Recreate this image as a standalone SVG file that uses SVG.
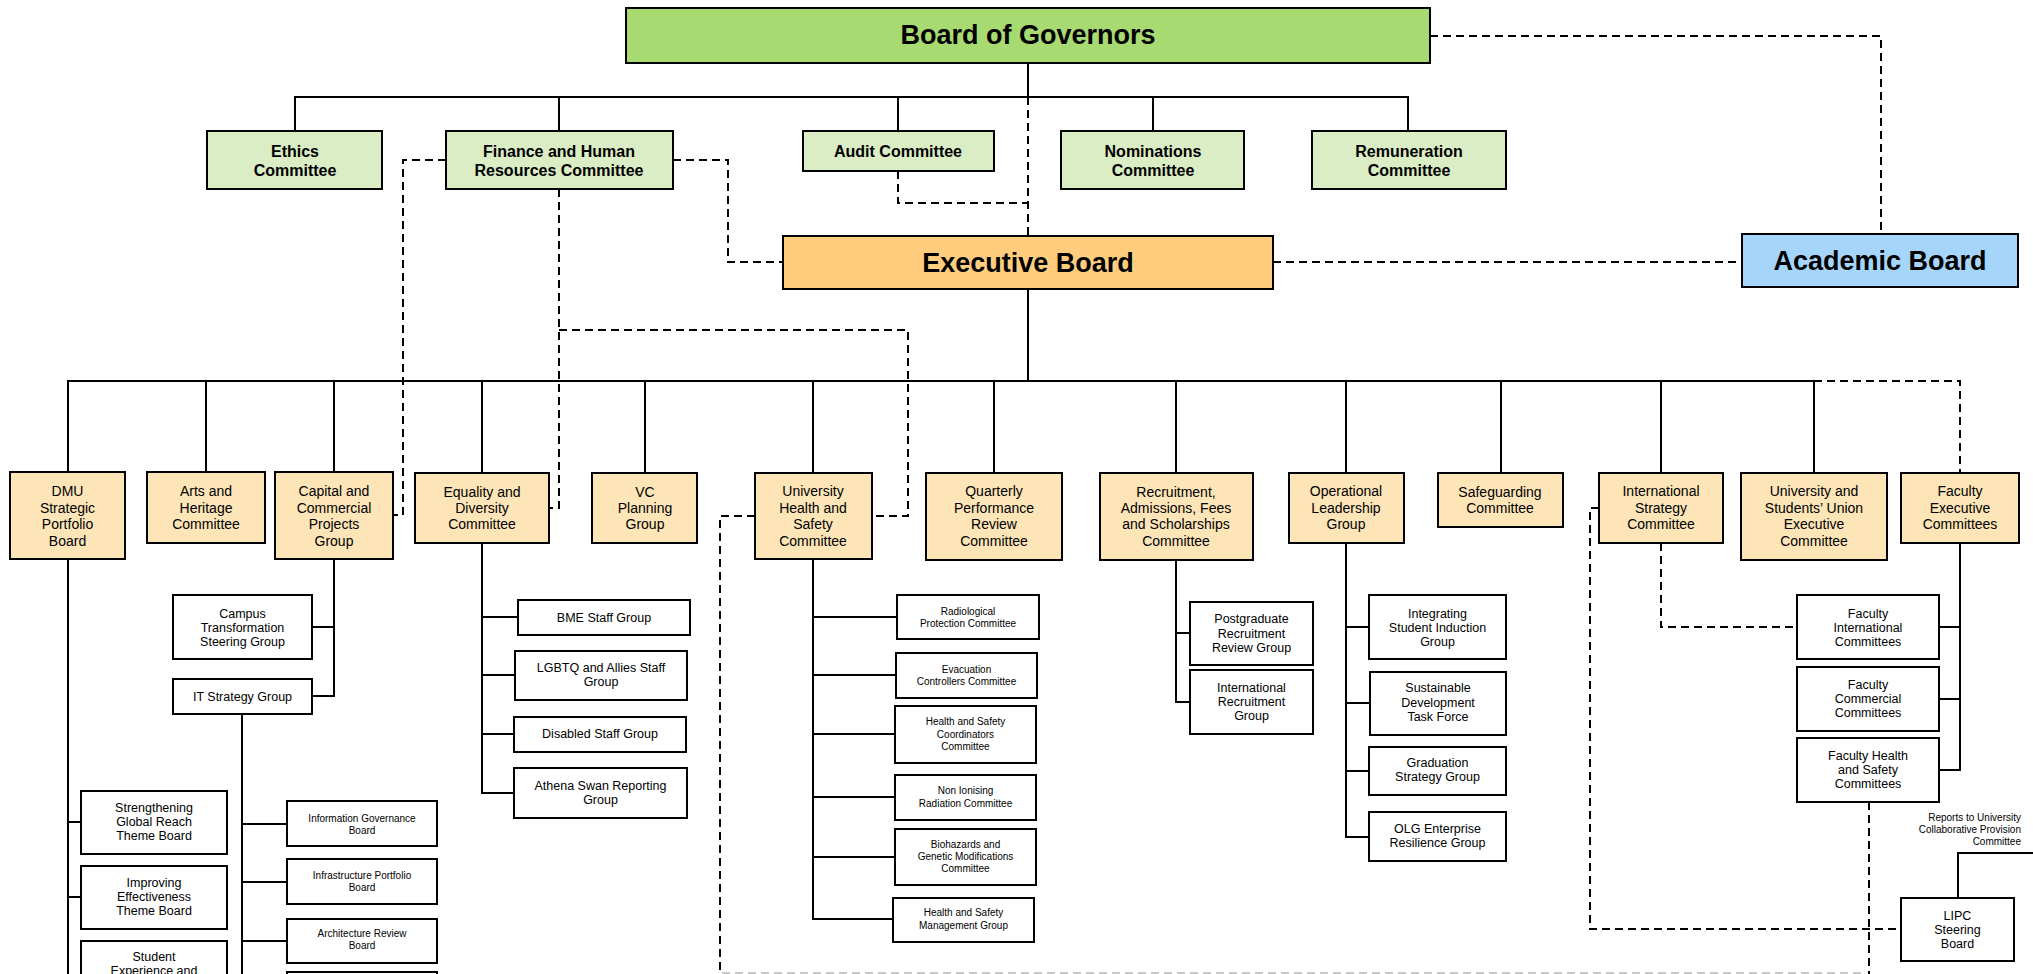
<svg xmlns="http://www.w3.org/2000/svg" width="2033" height="974" viewBox="0 0 2033 974">
<style>
.n rect{stroke:#000;stroke-width:2}
.bog{fill:#A8DA72}.com{fill:#DAEDC4}.exe{fill:#FFCD7D}.aca{fill:#A5D5FB}.sub{fill:#FDE5B7}.w{fill:#fff}
text{font-family:"Liberation Sans",Arial,sans-serif;text-anchor:middle;fill:#000}
.big{font-size:27px;font-weight:bold}
.cb{font-size:16px;font-weight:bold}
.o{font-size:14px}
.m{font-size:12.5px}
.sm{font-size:10px}
.s{fill:none;stroke:#000;stroke-width:2}
.d{fill:none;stroke:#000;stroke-width:2;stroke-dasharray:8 5}
.gd{fill:none;stroke:#c8c8c8;stroke-width:2;stroke-dasharray:8 5}
</style>
<rect x="0" y="0" width="2033" height="974" fill="#fff"/>
<g id="connectors">
<path class="s" d="M1028 63V97M295 131V97H1408V131M559 97V131M898 97V131M1153 97V131"/>
<path class="s" d="M1028 289V381M68 472V381H1814V473M206 381V472M334 381V472M482 381V473M645 381V473M813 381V473M994 381V473M1176 381V473M1346 381V473M1501 381V473M1661 381V473"/>
<path class="s" d="M68 559V974M68 822H81M68 897H81"/>
<path class="s" d="M334 559V696H312M334 627H312"/>
<path class="s" d="M242 714V974M242 824H287M242 882H287M242 941H287"/>
<path class="s" d="M482 543V793H514M482 617H518M482 675H515M482 734H514"/>
<path class="s" d="M813 559V919H893M813 617H897M813 675H896M813 734H895M813 797H895M813 857H895"/>
<path class="s" d="M1176 560V702H1190M1176 633H1190"/>
<path class="s" d="M1346 543V837H1369M1346 627H1369M1346 703H1370M1346 771H1369"/>
<path class="s" d="M1960 543V770H1939M1960 627H1939M1960 699H1939"/>
<path class="s" d="M2033 853H1958V898"/>
<path class="d" d="M1430 36H1881V234"/>
<path class="d" d="M1273 262H1742"/>
<path class="d" d="M1028 97V236"/>
<path class="d" d="M898 171V203H1028"/>
<path class="d" d="M673 160H728V262H783"/>
<path class="d" d="M446 160H403V515H393"/>
<path class="d" d="M559 189V508H549"/>
<path class="d" d="M559 330H908V516H872"/>
<path class="d" d="M755 516H720V974"/>
<path class="d" d="M1814 381H1960V473"/>
<path class="d" d="M1599 508H1590V929H1901"/>
<path class="d" d="M1661 543V627H1797"/>
<path class="d" d="M1869 802V974"/>
<path class="gd" d="M722 973H1866"/>
</g>
<g class="n">
<g id="board-of-governors"><rect class="bog" x="626" y="8" width="804" height="55"/><text class="big" x="1028" y="44">Board of Governors</text></g>
<g id="executive-board"><rect class="exe" x="783" y="236" width="490" height="53"/><text class="big" x="1028" y="272">Executive Board</text></g>
<g id="academic-board"><rect class="aca" x="1742" y="234" width="276" height="53"/><text class="big" x="1880" y="270">Academic Board</text></g>
<g id="ethics"><rect class="com" x="207" y="131" width="175" height="58"/><text class="cb"><tspan x="295" y="157">Ethics</tspan><tspan x="295" y="176">Committee</tspan></text></g>
<g id="finance-hr"><rect class="com" x="446" y="131" width="227" height="58"/><text class="cb"><tspan x="559" y="157">Finance and Human</tspan><tspan x="559" y="176">Resources Committee</tspan></text></g>
<g id="audit"><rect class="com" x="803" y="131" width="191" height="40"/><text class="cb" x="898" y="157">Audit Committee</text></g>
<g id="nominations"><rect class="com" x="1061" y="131" width="183" height="58"/><text class="cb"><tspan x="1153" y="157">Nominations</tspan><tspan x="1153" y="176">Committee</tspan></text></g>
<g id="remuneration"><rect class="com" x="1312" y="131" width="194" height="58"/><text class="cb"><tspan x="1409" y="157">Remuneration</tspan><tspan x="1409" y="176">Committee</tspan></text></g>
<g id="dmu"><rect class="sub" x="10" y="472" width="115" height="87"/><text class="o"><tspan x="67.5" y="496">DMU</tspan><tspan x="67.5" y="513">Strategic</tspan><tspan x="67.5" y="529">Portfolio</tspan><tspan x="67.5" y="546">Board</tspan></text></g>
<g id="arts"><rect class="sub" x="147" y="472" width="118" height="71"/><text class="o"><tspan x="206" y="496">Arts and</tspan><tspan x="206" y="513">Heritage</tspan><tspan x="206" y="529">Committee</tspan></text></g>
<g id="capital"><rect class="sub" x="275" y="472" width="118" height="87"/><text class="o"><tspan x="334" y="496">Capital and</tspan><tspan x="334" y="513">Commercial</tspan><tspan x="334" y="529">Projects</tspan><tspan x="334" y="546">Group</tspan></text></g>
<g id="equality"><rect class="sub" x="415" y="473" width="134" height="70"/><text class="o"><tspan x="482" y="497">Equality and</tspan><tspan x="482" y="513">Diversity</tspan><tspan x="482" y="529">Committee</tspan></text></g>
<g id="vc"><rect class="sub" x="592" y="473" width="105" height="70"/><text class="o"><tspan x="645" y="497">VC</tspan><tspan x="645" y="513">Planning</tspan><tspan x="645" y="529">Group</tspan></text></g>
<g id="uhs"><rect class="sub" x="755" y="473" width="117" height="86"/><text class="o"><tspan x="813" y="496">University</tspan><tspan x="813" y="513">Health and</tspan><tspan x="813" y="529">Safety</tspan><tspan x="813" y="546">Committee</tspan></text></g>
<g id="quarterly"><rect class="sub" x="926" y="473" width="136" height="87"/><text class="o"><tspan x="994" y="496">Quarterly</tspan><tspan x="994" y="513">Performance</tspan><tspan x="994" y="529">Review</tspan><tspan x="994" y="546">Committee</tspan></text></g>
<g id="recruitment"><rect class="sub" x="1100" y="473" width="153" height="87"/><text class="o"><tspan x="1176" y="497">Recruitment,</tspan><tspan x="1176" y="513">Admissions, Fees</tspan><tspan x="1176" y="529">and Scholarships</tspan><tspan x="1176" y="546">Committee</tspan></text></g>
<g id="operational"><rect class="sub" x="1289" y="473" width="115" height="70"/><text class="o"><tspan x="1346" y="496">Operational</tspan><tspan x="1346" y="513">Leadership</tspan><tspan x="1346" y="529">Group</tspan></text></g>
<g id="safeguarding"><rect class="sub" x="1438" y="473" width="125" height="54"/><text class="o"><tspan x="1500" y="497">Safeguarding</tspan><tspan x="1500" y="513">Committee</tspan></text></g>
<g id="international-strategy"><rect class="sub" x="1599" y="473" width="124" height="70"/><text class="o"><tspan x="1661" y="496">International</tspan><tspan x="1661" y="513">Strategy</tspan><tspan x="1661" y="529">Committee</tspan></text></g>
<g id="usu"><rect class="sub" x="1741" y="473" width="146" height="87"/><text class="o"><tspan x="1814" y="496">University and</tspan><tspan x="1814" y="513">Students’ Union</tspan><tspan x="1814" y="529">Executive</tspan><tspan x="1814" y="546">Committee</tspan></text></g>
<g id="faculty-exec"><rect class="sub" x="1901" y="473" width="118" height="70"/><text class="o"><tspan x="1960" y="496">Faculty</tspan><tspan x="1960" y="513">Executive</tspan><tspan x="1960" y="529">Committees</tspan></text></g>
<g id="campus"><rect class="w" x="173" y="595" width="139" height="64"/><text class="m"><tspan x="242.5" y="618">Campus</tspan><tspan x="242.5" y="632">Transformation</tspan><tspan x="242.5" y="646">Steering Group</tspan></text></g>
<g id="it-strategy"><rect class="w" x="173" y="679" width="139" height="35"/><text class="m" x="242.5" y="701">IT Strategy Group</text></g>
<g id="bme"><rect class="w" x="518" y="600" width="172" height="35"/><text class="m" x="604" y="622">BME Staff Group</text></g>
<g id="lgbtq"><rect class="w" x="515" y="651" width="172" height="49"/><text class="m"><tspan x="601" y="672">LGBTQ and Allies Staff</tspan><tspan x="601" y="686">Group</tspan></text></g>
<g id="disabled"><rect class="w" x="514" y="717" width="172" height="35"/><text class="m" x="600" y="738">Disabled Staff Group</text></g>
<g id="athena"><rect class="w" x="514" y="768" width="173" height="50"/><text class="m"><tspan x="600.5" y="790">Athena Swan Reporting</tspan><tspan x="600.5" y="804">Group</tspan></text></g>
<g id="strengthening"><rect class="w" x="81" y="791" width="146" height="63"/><text class="m"><tspan x="154" y="812">Strengthening</tspan><tspan x="154" y="826">Global Reach</tspan><tspan x="154" y="840">Theme Board</tspan></text></g>
<g id="improving"><rect class="w" x="81" y="866" width="146" height="63"/><text class="m"><tspan x="154" y="887">Improving</tspan><tspan x="154" y="901">Effectiveness</tspan><tspan x="154" y="915">Theme Board</tspan></text></g>
<g id="student"><rect class="w" x="81" y="941" width="146" height="63"/><text class="m"><tspan x="154" y="961">Student</tspan><tspan x="154" y="975">Experience and</tspan></text></g>
<g id="info-gov"><rect class="w" x="287" y="801" width="150" height="45"/><text class="sm"><tspan x="362" y="822">Information Governance</tspan><tspan x="362" y="834">Board</tspan></text></g>
<g id="infrastructure"><rect class="w" x="287" y="859" width="150" height="45"/><text class="sm"><tspan x="362" y="879">Infrastructure  Portfolio</tspan><tspan x="362" y="891">Board</tspan></text></g>
<g id="architecture"><rect class="w" x="287" y="919" width="150" height="44"/><text class="sm"><tspan x="362" y="937">Architecture Review</tspan><tspan x="362" y="949">Board</tspan></text></g>
<g id="it-sub-4"><rect class="w" x="287" y="972" width="150" height="40"/></g>
<g id="radiological"><rect class="w" x="897" y="595" width="142" height="44"/><text class="sm"><tspan x="968" y="615">Radiological</tspan><tspan x="968" y="627">Protection Committee</tspan></text></g>
<g id="evacuation"><rect class="w" x="896" y="653" width="141" height="45"/><text class="sm"><tspan x="966.5" y="673">Evacuation</tspan><tspan x="966.5" y="685">Controllers Committee</tspan></text></g>
<g id="hs-coordinators"><rect class="w" x="895" y="706" width="141" height="57"/><text class="sm"><tspan x="965.5" y="725">Health and Safety</tspan><tspan x="965.5" y="737.5">Coordinators</tspan><tspan x="965.5" y="749.5">Committee</tspan></text></g>
<g id="non-ionising"><rect class="w" x="895" y="775" width="141" height="45"/><text class="sm"><tspan x="965.5" y="794">Non Ionising</tspan><tspan x="965.5" y="806.5">Radiation Committee</tspan></text></g>
<g id="biohazards"><rect class="w" x="895" y="829" width="141" height="56"/><text class="sm"><tspan x="965.5" y="848">Biohazards and</tspan><tspan x="965.5" y="860">Genetic Modifications</tspan><tspan x="965.5" y="872">Committee</tspan></text></g>
<g id="hs-management"><rect class="w" x="893" y="898" width="141" height="44"/><text class="sm"><tspan x="963.5" y="916">Health and Safety</tspan><tspan x="963.5" y="928.5">Management Group</tspan></text></g>
<g id="postgrad"><rect class="w" x="1190" y="602" width="123" height="63"/><text class="m"><tspan x="1251.5" y="623">Postgraduate</tspan><tspan x="1251.5" y="637.5">Recruitment</tspan><tspan x="1251.5" y="651.5">Review Group</tspan></text></g>
<g id="intl-recruitment"><rect class="w" x="1190" y="670" width="123" height="64"/><text class="m"><tspan x="1251.5" y="692">International</tspan><tspan x="1251.5" y="706">Recruitment</tspan><tspan x="1251.5" y="720">Group</tspan></text></g>
<g id="integrating"><rect class="w" x="1369" y="595" width="137" height="64"/><text class="m"><tspan x="1437.5" y="618">Integrating</tspan><tspan x="1437.5" y="632">Student Induction</tspan><tspan x="1437.5" y="646">Group</tspan></text></g>
<g id="sustainable"><rect class="w" x="1370" y="672" width="136" height="63"/><text class="m"><tspan x="1438" y="692">Sustainable</tspan><tspan x="1438" y="706.5">Development</tspan><tspan x="1438" y="720.5">Task Force</tspan></text></g>
<g id="graduation"><rect class="w" x="1369" y="747" width="137" height="48"/><text class="m"><tspan x="1437.5" y="767">Graduation</tspan><tspan x="1437.5" y="781">Strategy Group</tspan></text></g>
<g id="olg"><rect class="w" x="1369" y="812" width="137" height="49"/><text class="m"><tspan x="1437.5" y="832.5">OLG Enterprise</tspan><tspan x="1437.5" y="846.5">Resilience Group</tspan></text></g>
<g id="faculty-intl"><rect class="w" x="1797" y="595" width="142" height="64"/><text class="m"><tspan x="1868" y="618">Faculty</tspan><tspan x="1868" y="632">International</tspan><tspan x="1868" y="646">Committees</tspan></text></g>
<g id="faculty-commercial"><rect class="w" x="1797" y="667" width="142" height="64"/><text class="m"><tspan x="1868" y="689">Faculty</tspan><tspan x="1868" y="703">Commercial</tspan><tspan x="1868" y="717">Committees</tspan></text></g>
<g id="faculty-hs"><rect class="w" x="1797" y="738" width="142" height="64"/><text class="m"><tspan x="1868" y="760">Faculty Health</tspan><tspan x="1868" y="774">and Safety</tspan><tspan x="1868" y="788">Committees</tspan></text></g>
<g id="lipc"><rect class="w" x="1901" y="898" width="113" height="63"/><text class="m"><tspan x="1957.5" y="920">LIPC</tspan><tspan x="1957.5" y="934">Steering</tspan><tspan x="1957.5" y="948">Board</tspan></text></g>
<g id="reports-note"><text class="sm" style="text-anchor:end"><tspan x="2021" y="821">Reports to University</tspan><tspan x="2021" y="833">Collaborative Provision</tspan><tspan x="2021" y="845">Committee</tspan></text></g>
</g>
</svg>
